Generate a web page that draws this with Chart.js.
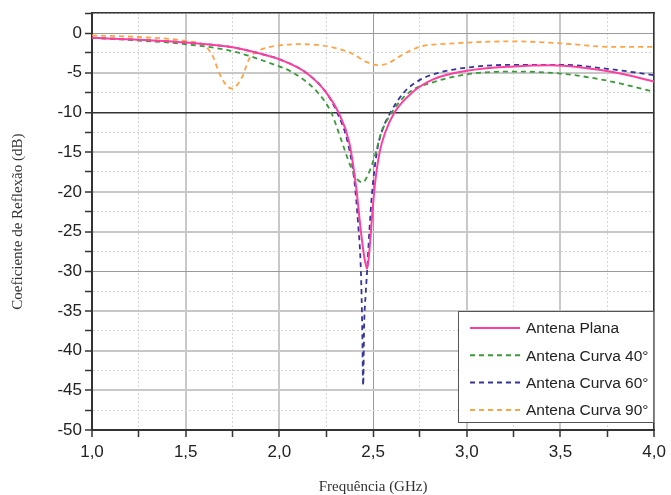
<!DOCTYPE html>
<html>
<head>
<meta charset="utf-8">
<script src="https://cdn.jsdelivr.net/npm/chart.js@4.4.1/dist/chart.umd.min.js"></script>
<style>
html, body { margin: 0; padding: 0; background: #fff; }
</style>
</head>
<body>
<canvas id="chart" width="671" height="495"></canvas>
<script>
// series labels
var seriesNames = ['Antena Plana', 'Antena Curva 40°', 'Antena Curva 60°', 'Antena Curva 90°'];

// Antena Plana
var freqPlana = [1.0, 1.25, 1.5, 1.75, 1.94, 2.0, 2.143, 2.25, 2.315, 2.373, 2.41, 2.435, 2.455, 2.468, 2.48, 2.495, 2.51, 2.535, 2.565, 2.614, 2.708, 2.823, 3.0, 3.25, 3.45, 3.6, 3.8, 4.0];
var dbPlana   = [-0.6, -0.85, -1.2, -1.8, -2.87, -3.3, -5.0, -7.5, -10, -13.8, -19.5, -25, -28.5, -29.7, -27.5, -23, -19, -15, -12.5, -10, -7.5, -5.8, -4.75, -4.2, -4.05, -4.3, -5.0, -6.1];

// Antena Curva 40
var freq40 = [1.0, 1.25, 1.5, 1.75, 1.94, 2.073, 2.205, 2.276, 2.332, 2.38, 2.415, 2.445, 2.47, 2.495, 2.515, 2.54, 2.6, 2.69, 2.82, 3.0, 3.25, 3.5, 3.75, 4.0];
var db40   = [-0.6, -0.95, -1.4, -2.3, -3.7, -5.0, -7.5, -10, -13.6, -16.8, -18.4, -18.8, -18.0, -16.5, -15, -12.8, -10, -7.5, -6.2, -5.2, -4.85, -5.1, -6.0, -7.4];

// Antena Curva 60
var freq60 = [1.0, 1.25, 1.5, 1.75, 1.94, 2.0, 2.143, 2.25, 2.308, 2.365, 2.4, 2.42, 2.435, 2.442, 2.447, 2.452, 2.46, 2.468, 2.48, 2.495, 2.52, 2.545, 2.593, 2.664, 2.75, 2.85, 3.0, 3.25, 3.5, 3.75, 4.0];
var db60   = [-0.6, -0.85, -1.2, -1.8, -2.87, -3.3, -5.0, -7.5, -10, -13.8, -18.6, -24, -30, -37, -44.4, -37, -33, -30, -25, -20, -15, -12.5, -10, -7.5, -5.9, -5.0, -4.35, -4.0, -4.0, -4.5, -5.3];

// Antena Curva 90
var freq90 = [1.0, 1.25, 1.5, 1.6, 1.64, 1.69, 1.745, 1.8, 1.84, 1.9, 1.94, 2.0, 2.1, 2.2, 2.3, 2.38, 2.47, 2.53, 2.58, 2.637, 2.7, 2.77, 2.9, 3.0, 3.25, 3.5, 3.78, 4.0];
var db90   = [-0.3, -0.5, -1.0, -1.6, -2.7, -5.6, -7.0, -5.6, -3.2, -2.1, -1.8, -1.55, -1.4, -1.5, -1.9, -2.5, -3.7, -4.05, -3.8, -3.0, -2.2, -1.6, -1.35, -1.2, -1.05, -1.3, -1.75, -1.75];

var lineColors = ['#ff3fa0', '#3a9a3a', '#34349a', '#ffa445'];

function pts(xs, ys) {
    return xs.map(function(x, i) { return {x: x, y: ys[i]}; });
}

// boxed legend in the lower right corner
var boxLegend = {
    id: 'boxLegend',
    afterDraw: function(chart) {
        var ctx = chart.ctx;
        var area = chart.chartArea;
        var x0 = 458, y0 = 311, w = area.right - x0, h = 112;
        ctx.save();
        ctx.fillStyle = '#fff';
        ctx.fillRect(x0, y0, w, h);
        ctx.strokeStyle = '#555';
        ctx.lineWidth = 1;
        ctx.strokeRect(x0 + 0.5, y0 + 0.5, w - 1, h - 1);
        ctx.font = '15.5px "Liberation Sans", Arial, sans-serif';
        ctx.textBaseline = 'middle';
        chart.data.datasets.forEach(function(ds, i) {
            var yy = y0 + 17 + i * 27.3;
            ctx.strokeStyle = ds.borderColor;
            ctx.lineWidth = 2;
            ctx.setLineDash(ds.borderDash || []);
            ctx.beginPath();
            ctx.moveTo(x0 + 12, yy);
            ctx.lineTo(x0 + 62, yy);
            ctx.stroke();
            ctx.setLineDash([]);
            ctx.fillStyle = '#222';
            ctx.fillText(ds.label, x0 + 68, yy + 1);
        });
        ctx.restore();
    }
};

function gridColorY(c) {
    if (!c.tick) return '#ccc';
    var v = c.tick.value;
    if (v === -10) return '#333';
    if (v === 0 || v === -30) return '#9a9a9a';
    if (v % 5 === 0) return '#c8c8c8';
    return '#d4d4d4';
}
function gridWidthY(c) {
    if (!c.tick) return 1;
    var v = c.tick.value;
    if (v === -10) return 1.5;
    if (v === 0 || v === -30) return 1;
    if (v % 5 === 0) return 2;
    return 1;
}
function gridColorX(c) {
    if (!c.tick) return '#ccc';
    var v = c.tick.value;
    if (Math.abs(v - 2.5) < 1e-6) return '#9a9a9a';
    if (Math.abs(v * 2 - Math.round(v * 2)) < 1e-6) return '#c8c8c8';
    return '#d4d4d4';
}
function gridWidthX(c) {
    if (!c.tick) return 1;
    var v = c.tick.value;
    if (Math.abs(v - 2.5) < 1e-6) return 1;
    if (Math.abs(v * 2 - Math.round(v * 2)) < 1e-6) return 2;
    return 1;
}

new Chart(document.getElementById('chart'), {
    type: 'line',
    data: {
        datasets: [
            { label: seriesNames[0], data: pts(freqPlana, dbPlana), borderColor: lineColors[0], borderWidth: 2 },
            { label: seriesNames[1], data: pts(freq40, db40), borderColor: lineColors[1], borderWidth: 1.8, borderDash: [5, 4] },
            { label: seriesNames[2], data: pts(freq60, db60), borderColor: lineColors[2], borderWidth: 1.8, borderDash: [5, 4] },
            { label: seriesNames[3], data: pts(freq90, db90), borderColor: lineColors[3], borderWidth: 1.8, borderDash: [5, 4] }
        ]
    },
    options: {
        responsive: false,
        animation: false,
        devicePixelRatio: 1,
        layout: { padding: 0 },
        elements: {
            point: { radius: 0 },
            line: { cubicInterpolationMode: 'monotone', fill: false }
        },
        plugins: {
            legend: { display: false },
            tooltip: { enabled: false }
        },
        scales: {
            x: {
                type: 'linear',
                position: 'bottom',
                min: 1, max: 4,
                afterFit: function(s) { s.height = 65; },
                ticks: {
                    stepSize: 0.25,
                    padding: 5,
                    color: '#222',
                    font: { family: '"Liberation Sans", Arial, sans-serif', size: 17 },
                    maxRotation: 0,
                    autoSkip: false,
                    callback: function(v) {
                        return Math.abs(v * 2 - Math.round(v * 2)) < 1e-6 ? v.toFixed(1).replace('.', ',') : '';
                    }
                },
                grid: {
                    color: gridColorX,
                    lineWidth: gridWidthX,
                    tickColor: '#333',
                    tickWidth: 1.5,
                    tickLength: 7
                },
                border: {
                    color: '#333', width: 2,
                    dash: function(c) {
                        if (!c.tick) return [];
                        var v = c.tick.value;
                        return Math.abs(v * 2 - Math.round(v * 2)) < 1e-6 ? [] : [2, 2];
                    }
                },
                title: {
                    display: true,
                    text: 'Frequência (GHz)',
                    color: '#333',
                    font: { family: '"Liberation Serif", "Times New Roman", serif', size: 15, lineHeight: 1 },
                    padding: { top: 0, bottom: 0 }
                }
            },
            xTop: {
                type: 'linear',
                position: 'top',
                min: 1, max: 4,
                afterFit: function(s) { s.height = 12; },
                ticks: { display: false },
                grid: { drawOnChartArea: false, drawTicks: false },
                border: { color: '#333', width: 1.5 }
            },
            y: {
                type: 'linear',
                position: 'left',
                min: -50, max: 2.5,
                afterFit: function(s) { s.width = 92; },
                ticks: {
                    stepSize: 2.5,
                    padding: 3,
                    color: '#222',
                    font: { family: '"Liberation Sans", Arial, sans-serif', size: 17 },
                    autoSkip: false,
                    callback: function(v) { return v % 5 === 0 ? String(v) : ''; }
                },
                grid: {
                    color: gridColorY,
                    lineWidth: gridWidthY,
                    tickColor: '#333',
                    tickWidth: 1.5,
                    tickLength: 7
                },
                border: {
                    color: '#333', width: 2,
                    dash: function(c) {
                        if (!c.tick) return [];
                        return c.tick.value % 5 === 0 ? [] : [2, 2];
                    }
                },
                title: {
                    display: true,
                    text: 'Coeficiente de Reflexão (dB)',
                    color: '#333',
                    font: { family: '"Liberation Serif", "Times New Roman", serif', size: 15, lineHeight: 1 },
                    padding: { top: 11, bottom: 0 }
                }
            },
            yRight: {
                type: 'linear',
                position: 'right',
                min: -50, max: 2.5,
                afterFit: function(s) { s.width = 13; },
                ticks: { display: false },
                grid: { drawOnChartArea: false, drawTicks: false },
                border: { color: '#333', width: 1.5 }
            }
        }
    },
    plugins: [boxLegend]
});
</script>
</body>
</html>
